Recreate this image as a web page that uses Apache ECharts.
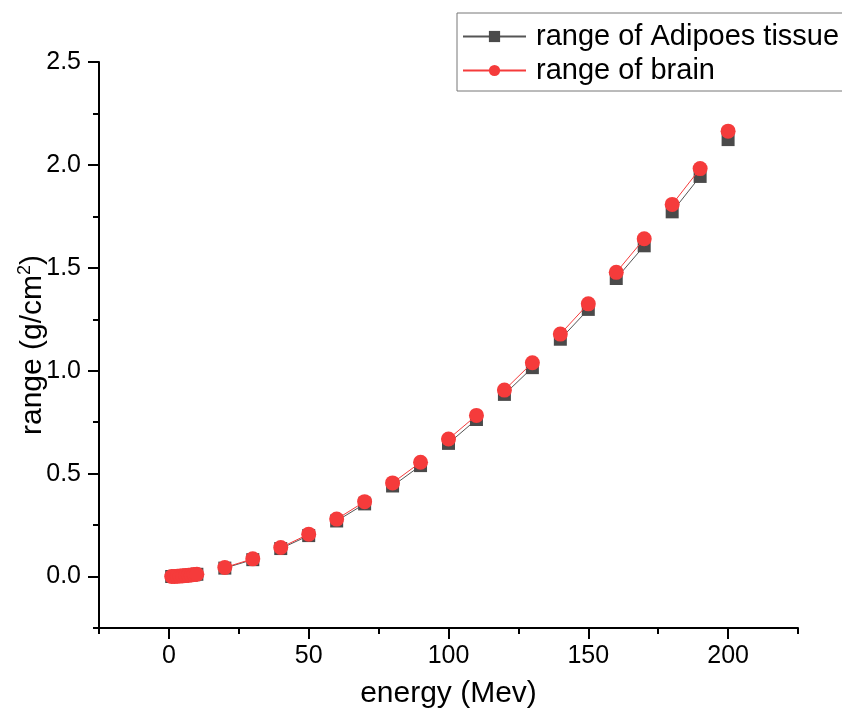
<!DOCTYPE html>
<html>
<head>
<meta charset="utf-8">
<script src="https://cdn.jsdelivr.net/npm/echarts@6/dist/echarts.min.js"></script>
<style>html,body{margin:0;padding:0;background:#fff}#c{width:842px;height:714px}</style>
</head>
<body>
<div id="c"></div>
<script>
// energies (MeV)
var energies = [1, 2, 3, 4, 5, 6, 7, 8, 9, 10, 20, 30, 40, 50, 60, 70, 80, 90, 100, 110, 120, 130, 140, 150, 160, 170, 180, 190, 200];
// range of Adipoes tissue (g/cm2)
var adiposeRange = [0.0002, 0.0007, 0.0014, 0.0022, 0.0033, 0.0046, 0.006, 0.0075, 0.0092, 0.011, 0.041, 0.082, 0.136, 0.199, 0.270, 0.353, 0.440, 0.539, 0.647, 0.763, 0.885, 1.015, 1.153, 1.298, 1.448, 1.607, 1.772, 1.944, 2.123];
// range of brain (g/cm2)
var brainRange = [0.0002, 0.0007, 0.0014, 0.0023, 0.0034, 0.0047, 0.0061, 0.0077, 0.0095, 0.0115, 0.044, 0.086, 0.141, 0.206, 0.279, 0.364, 0.455, 0.555, 0.668, 0.783, 0.906, 1.039, 1.178, 1.325, 1.478, 1.641, 1.808, 1.982, 2.164];
// line breaks after these energies (line segments are not connected across them)
var breakAfter = [10, 30, 50, 70, 90, 110, 130, 150, 170, 190];
// axis ticks
var xLabels = [0, 50, 100, 150, 200];
var xMinor = [-25, 25, 75, 125, 175, 225];
var yLabels = [0, 0.5, 1.0, 1.5, 2.0, 2.5];
var yMinor = [-0.25, 0.25, 0.75, 1.25, 1.75, 2.25];

function build(vals) {
  var out = [];
  for (var i = 0; i < energies.length; i++) {
    out.push([energies[i], vals[i]]);
    if (breakAfter.indexOf(energies[i]) >= 0) out.push('-');
  }
  return out;
}

var chart = echarts.init(document.getElementById('c'), null, {renderer: 'canvas'});
var font = 'Liberation Sans, Arial, sans-serif';
var axisColor = '#000';
chart.setOption({
  animation: false,
  backgroundColor: '#fff',
  grid: {left: 99, right: 44, top: 62, bottom: 86, containLabel: false, outerBoundsMode: 'none'},
  legend: {
    orient: 'vertical',
    left: 457, top: 13,
    padding: [7, 6, 4, 5],
    itemGap: 1,
    itemWidth: 63, itemHeight: 14,
    borderColor: '#777', borderWidth: 1,
    textStyle: {fontFamily: font, fontSize: 29, color: '#000', lineHeight: 33, padding: [0, 0, 0, 5]},
    data: ['range of Adipoes tissue', 'range of brain']
  },
  xAxis: [{
    type: 'value', min: -25, max: 225,
    name: 'energy (Mev)', nameLocation: 'middle', nameGap: 51, nameMoveOverlap: false,
    nameTextStyle: {fontFamily: font, fontSize: 30, color: '#000'},
    axisLine: {show: true, onZero: false, lineStyle: {color: axisColor, width: 2}},
    axisTick: {show: true, inside: false, length: 11, lineStyle: {color: axisColor, width: 2}, customValues: xLabels},
    axisLabel: {fontFamily: font, fontSize: 25, color: '#000', margin: 16, customValues: xLabels},
    splitLine: {show: false}
  }, {
    type: 'value', min: -25, max: 225, position: 'bottom',
    axisLine: {show: false, onZero: false},
    axisTick: {show: true, inside: false, length: 6, lineStyle: {color: axisColor, width: 2}, customValues: xMinor},
    axisLabel: {show: false},
    splitLine: {show: false}
  }],
  yAxis: [{
    type: 'value', min: -0.25, max: 2.5,
    name: 'range (g/cm{sup|2})', nameLocation: 'middle', nameGap: 50, nameRotate: 90, nameMoveOverlap: false,
    nameTextStyle: {fontFamily: font, fontSize: 30, color: '#000',
      rich: {sup: {fontFamily: font, fontSize: 18, color: '#000', verticalAlign: 'top', padding: [0, 0, 15, 0]}}},
    axisLine: {show: true, onZero: false, lineStyle: {color: axisColor, width: 2}},
    axisTick: {show: true, inside: false, length: 11, lineStyle: {color: axisColor, width: 2}, customValues: yLabels},
    axisLabel: {fontFamily: font, fontSize: 25, color: '#000', margin: 18, customValues: yLabels,
      formatter: function (v) { return v.toFixed(1); }},
    splitLine: {show: false}
  }, {
    type: 'value', min: -0.25, max: 2.5, position: 'left',
    axisLine: {show: false, onZero: false},
    axisTick: {show: true, inside: false, length: 6, lineStyle: {color: axisColor, width: 2}, customValues: yMinor},
    axisLabel: {show: false},
    splitLine: {show: false}
  }],
  series: [{
    name: 'range of Adipoes tissue', type: 'line',
    xAxisIndex: 0, yAxisIndex: 0,
    data: build(adiposeRange),
    connectNulls: false,
    symbol: 'rect', symbolSize: 13,
    itemStyle: {color: '#4a4a4a'},
    lineStyle: {color: '#555', width: 1},
    z: 2
  }, {
    name: 'range of brain', type: 'line',
    xAxisIndex: 0, yAxisIndex: 0,
    data: build(brainRange),
    connectNulls: false,
    symbol: 'circle', symbolSize: 15,
    itemStyle: {color: '#f53b3b'},
    lineStyle: {color: '#f53b3b', width: 1},
    z: 3
  }]
});
</script>
</body>
</html>
